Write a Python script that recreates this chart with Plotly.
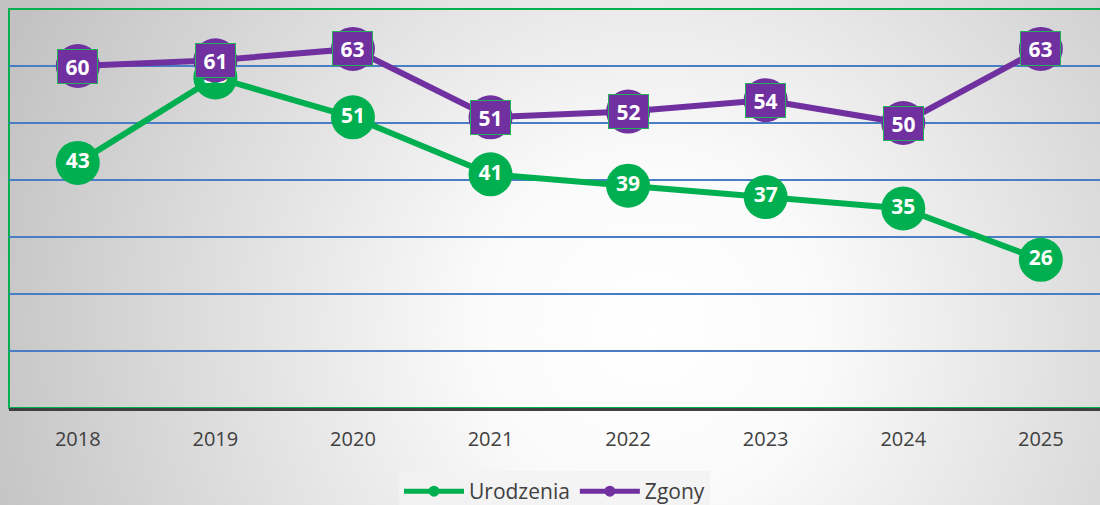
import base64
import plotly.graph_objects as go

years = [2018, 2019, 2020, 2021, 2022, 2023, 2024, 2025]
urodzenia = [43, 58, 51, 41, 39, 37, 35, 26]
zgony = [60, 61, 63, 51, 52, 54, 50, 63]

GREEN = "#00B050"
PURPLE = "#7030A0"
GRID = "#4A7EC4"
TXT = "#404040"

# radial gray background, drawn as an svg image behind everything
svg = (
    '<svg xmlns="http://www.w3.org/2000/svg" width="1100" height="505">'
    '<defs><radialGradient id="g" gradientUnits="userSpaceOnUse" cx="650" cy="330" r="700">'
    '<stop offset="0" stop-color="#ffffff"/><stop offset="0.25" stop-color="#fafafa"/>'
    '<stop offset="1" stop-color="#c2c2c2"/></radialGradient></defs>'
    '<rect width="1100" height="505" fill="url(#g)"/></svg>'
)
bg_src = "data:image/svg+xml;base64," + base64.b64encode(svg.encode()).decode()

fig = go.Figure()

fig.add_trace(go.Scatter(
    x=years, y=urodzenia, mode="lines+markers+text", name="Urodzenia",
    line=dict(color=GREEN, width=6), marker=dict(color=GREEN, size=44),
    text=[str(v) for v in urodzenia], textposition="middle center",
    textfont=dict(family="Open Sans", size=21, color="white", weight="bold"),
    showlegend=False, cliponaxis=False,
))
fig.add_trace(go.Scatter(
    x=years, y=zgony, mode="lines+markers", name="Zgony",
    line=dict(color=PURPLE, width=6), marker=dict(color=PURPLE, size=44),
    showlegend=False, cliponaxis=False,
))

# legend entries with small markers
fig.add_trace(go.Scatter(x=[None], y=[None], mode="lines+markers", name="Urodzenia",
                         line=dict(color=GREEN, width=5), marker=dict(color=GREEN, size=11)))
fig.add_trace(go.Scatter(x=[None], y=[None], mode="lines+markers", name="Zgony",
                         line=dict(color=PURPLE, width=5), marker=dict(color=PURPLE, size=11)))

# purple data labels in boxes
for x, v in zip(years, zgony):
    fig.add_annotation(
        x=x, y=v, text="<b>%d</b>" % v, showarrow=False,
        font=dict(family="Open Sans", size=21, color="white"),
        bgcolor=PURPLE, bordercolor="#22B15A", borderwidth=1, borderpad=0,
        width=39, height=33,
    )

fig.add_layout_image(dict(
    source=bg_src, xref="paper", yref="paper", x=-9 / 1091, y=1 + 9 / 399,
    sizex=1100 / 1091, sizey=505 / 399, xanchor="left", yanchor="top",
    sizing="stretch", layer="below",
))

fig.add_shape(type="rect", xref="paper", yref="paper", x0=0, x1=1.01, y0=0, y1=1,
              line=dict(color=GREEN, width=2), layer="below")

fig.update_layout(
    width=1100, height=505,
    margin=dict(l=9, r=0, t=9, b=97, autoexpand=False),
    paper_bgcolor="rgba(0,0,0,0)", plot_bgcolor="rgba(0,0,0,0)",
    font=dict(family="Open Sans", color=TXT),
    legend=dict(
        orientation="h", x=0.5, xanchor="center", y=-0.158, yanchor="top",
        bgcolor="rgba(242,242,242,0.85)", font=dict(size=21, color=TXT),
        itemwidth=60,
    ),
    xaxis=dict(
        range=[2017.5, 2025.43], tickvals=years, ticktext=[str(y) for y in years],
        showgrid=False, zeroline=False, showline=True, linecolor="#404040", linewidth=3,
        ticks="outside", ticklen=11, tickcolor="rgba(0,0,0,0)",
        tickfont=dict(size=20, color=TXT),
    ),
    yaxis=dict(
        range=[0, 70], dtick=10, showticklabels=False, showgrid=True,
        gridcolor=GRID, gridwidth=1.5, zeroline=False, showline=False,
    ),
)

fig.write_html("out.html", config={"displayModeBar": False},
               post_script="document.body.style.margin='0';")
